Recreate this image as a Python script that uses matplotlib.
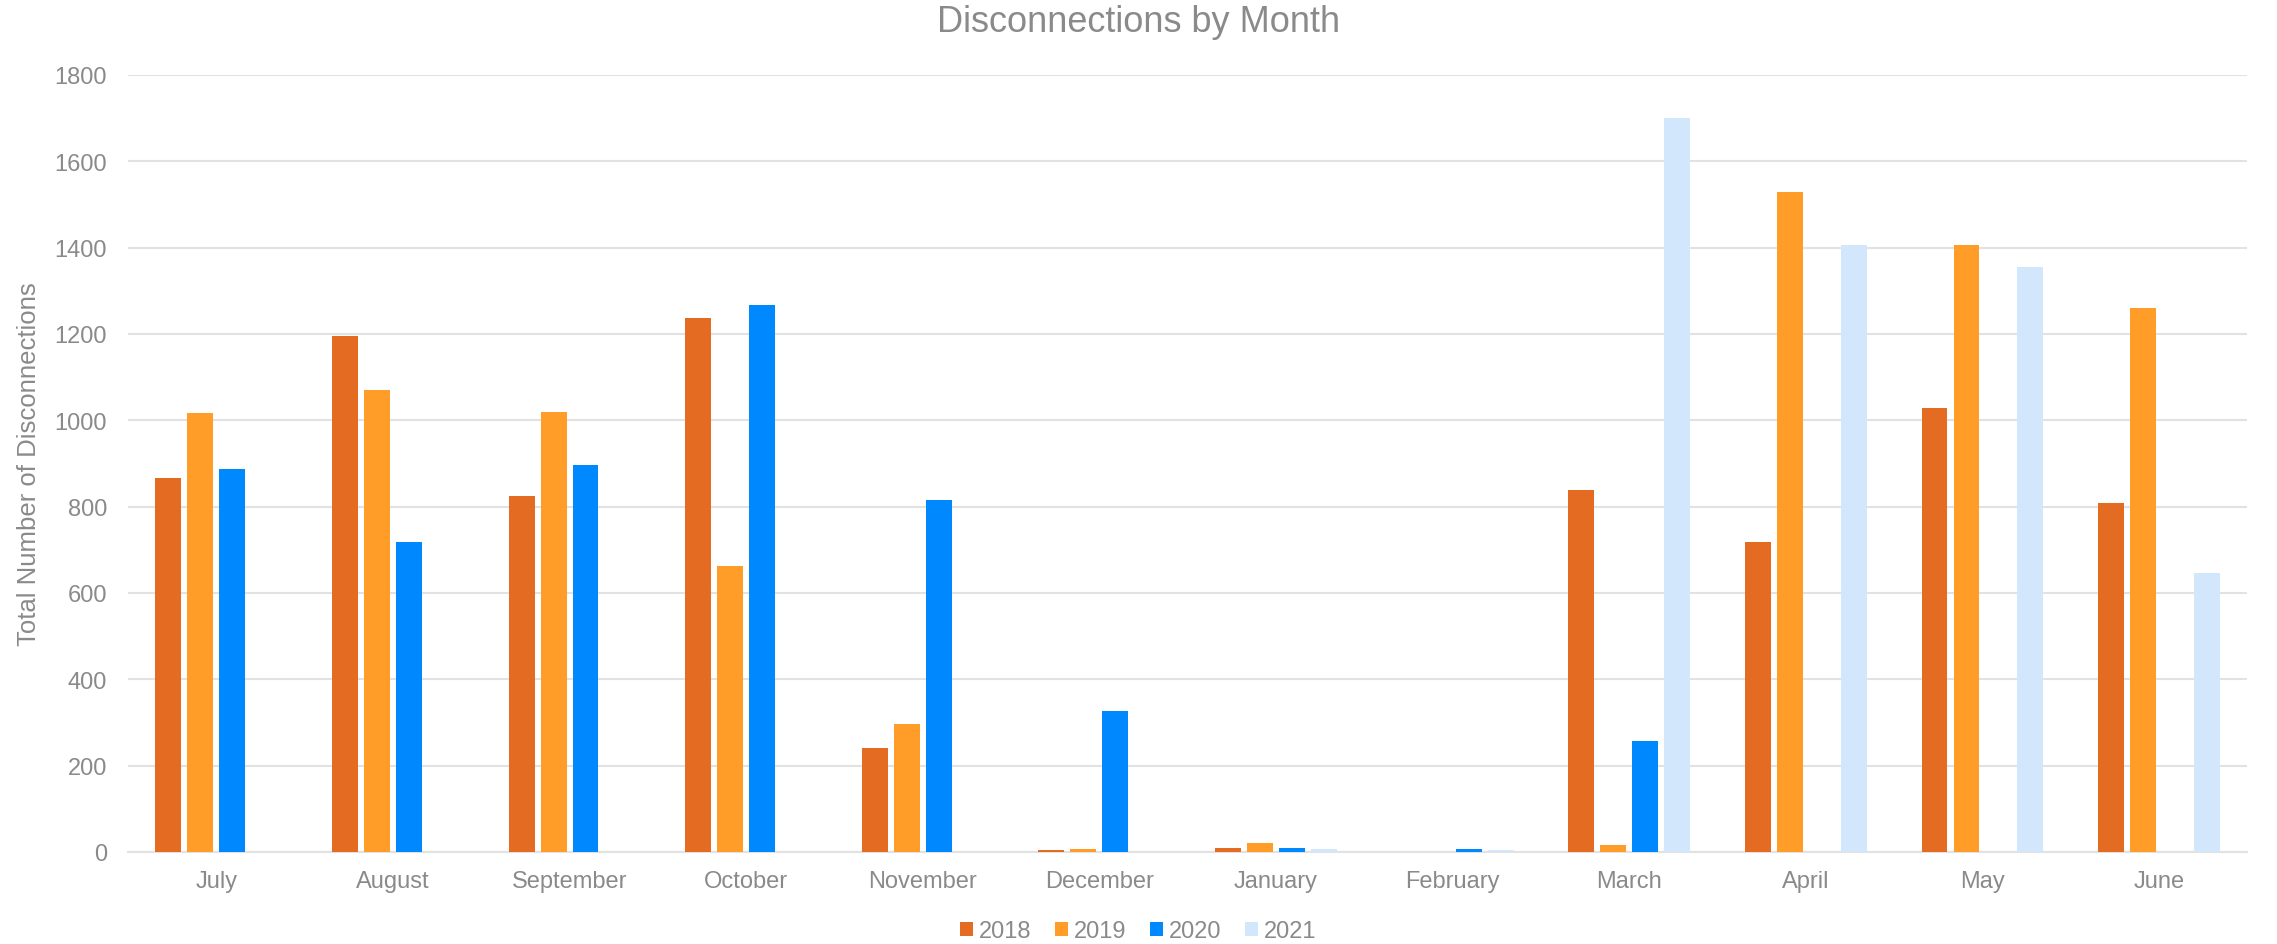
import matplotlib.pyplot as plt
import numpy as np

months = ["July", "August", "September", "October", "November", "December",
          "January", "February", "March", "April", "May", "June"]
years = ["2018", "2019", "2020", "2021"]

vals_2018 = [867, 1195, 824, 1238, 240, 5, 10, 1, 838, 717, 1028, 808]
vals_2019 = [1016, 1071, 1020, 663, 297, 7, 21, 1, 15, 1529, 1407, 1260]
vals_2020 = [888, 718, 896, 1267, 816, 327, 9, 6, 256, 0, 0, 0]
vals_2021 = [0, 0, 0, 0, 0, 0, 7, 4, 1701, 1407, 1355, 646]

series = [vals_2018, vals_2019, vals_2020, vals_2021]
colors = ["#E46C22", "#FF9D28", "#0088FF", "#D2E6FC"]

TEXT_COLOR = "#8A8A8A"
GRID_COLOR = "#E2E2E2"

plt.rcParams["font.family"] = ["Liberation Sans", "DejaVu Sans"]

fig = plt.figure(figsize=(22.77, 9.45), dpi=100)
ax = fig.add_axes([0.0562, 0.0974, 0.9308, 0.8222])

# grouped bars, 4 years per month
x = np.arange(len(months))
step = 0.181
width = 0.147
for k, (vals, col, yr) in enumerate(zip(series, colors, years)):
    ax.bar(x + (k - 1.5) * step, vals, width, color=col, label=yr, zorder=3)

ax.set_xlim(-0.5, len(months) - 0.5)
ax.set_ylim(0, 1800)
ax.set_yticks(range(0, 1801, 200))
ax.set_xticks(x)
ax.set_xticklabels(months)
ax.tick_params(axis="both", length=0, labelsize=17, colors=TEXT_COLOR)
ax.tick_params(axis="y", pad=15)
ax.tick_params(axis="x", pad=13)

ax.grid(axis="y", color=GRID_COLOR, linewidth=1.5, zorder=0)
for s in ["top", "right", "left"]:
    ax.spines[s].set_visible(False)
ax.spines["bottom"].set_color(GRID_COLOR)
ax.spines["bottom"].set_linewidth(1.5)

ax.set_ylabel("Total Number of Disconnections", fontsize=18.5, color=TEXT_COLOR, labelpad=10)
fig.text(0.5, 0.976, "Disconnections by Month", ha="center", va="center",
         fontsize=26, color=TEXT_COLOR)

fig.legend(loc="center", bbox_to_anchor=(0.5, 0.0135), ncol=4, frameon=False,
           fontsize=17, labelcolor=TEXT_COLOR, handlelength=0.55, handleheight=0.55,
           handletextpad=0.25, columnspacing=1.0, borderpad=0)

plt.savefig("out.png", dpi=100)
plt.close()
